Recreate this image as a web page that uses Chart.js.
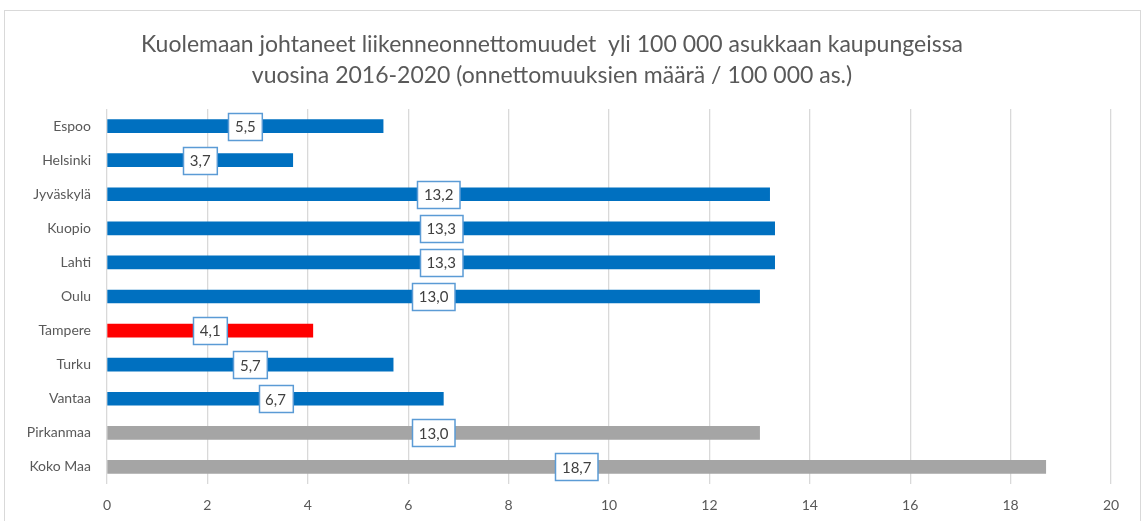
<!DOCTYPE html>
<html>
<head>
<meta charset="utf-8">
<script src="https://cdn.jsdelivr.net/npm/chart.js@4/dist/chart.umd.min.js"></script>
<style>
  html, body { margin: 0; padding: 0; background: #ffffff; }
  #wrap { width: 1143px; height: 521px; position: relative; }
</style>
</head>
<body>
<div id="wrap"><canvas id="chart" width="1143" height="521"></canvas></div>
<script>
// Kaupungit ja onnettomuudet / 100 000 as.
const cities = ["Espoo", "Helsinki", "Jyväskylä", "Kuopio", "Lahti", "Oulu",
                "Tampere", "Turku", "Vantaa", "Pirkanmaa", "Koko Maa"];
const rates = [5.5, 3.7, 13.2, 13.3, 13.3, 13.0, 4.1, 5.7, 6.7, 13.0, 18.7];
const titleLines = [
    "Kuolemaan johtaneet liikenneonnettomuudet  yli 100 000 asukkaan kaupungeissa",
    "vuosina 2016-2020 (onnettomuuksien määrä / 100 000 as.)"
];

const BLUE = "#0070C0", RED = "#FF0000", GREY = "#A5A5A5";
const barColors = cities.map(c =>
    c === "Tampere" ? RED : (c === "Pirkanmaa" || c === "Koko Maa") ? GREY : BLUE);

const FONT = "Lato, 'Open Sans', sans-serif";

function fmt(v) {
    return v.toFixed(1).replace(".", ",");
}

// Kehys ja otsikko
const framePlugin = {
    id: "frame",
    beforeDraw(chart) {
        const ctx = chart.ctx;
        ctx.save();
        ctx.strokeStyle = "#D9D9D9";
        ctx.lineWidth = 1;
        ctx.strokeRect(4.5, 10.5, 1136, 530);
        ctx.fillStyle = "#595959";
        ctx.font = "23px " + FONT;
        ctx.textAlign = "center";
        ctx.textBaseline = "middle";
        titleLines.forEach((t, i) => ctx.fillText(t, 552, 45 + i * 31));
        ctx.restore();
    }
};

// Arvolaatikot palkkien keskelle
const valueBoxPlugin = {
    id: "valueBoxes",
    afterDatasetsDraw(chart) {
        const ctx = chart.ctx;
        const meta = chart.getDatasetMeta(0);
        ctx.save();
        ctx.font = "15px " + FONT;
        ctx.textAlign = "center";
        ctx.textBaseline = "middle";
        meta.data.forEach((bar, i) => {
            const txt = fmt(chart.data.datasets[0].data[i]);
            const cx = (bar.x + bar.base) / 2;
            const cy = bar.y;
            const w = ctx.measureText(txt).width + 13;
            const h = 27;
            const x0 = Math.round(cx - w / 2) + 0.5;
            const y0 = Math.round(cy - h / 2) + 0.5;
            ctx.fillStyle = "#FFFFFF";
            ctx.fillRect(x0, y0, w, h);
            ctx.strokeStyle = "#5B9BD5";
            ctx.lineWidth = 1.5;
            ctx.strokeRect(x0, y0, w, h);
            ctx.fillStyle = "#404040";
            ctx.fillText(txt, cx, cy + 1);
        });
        ctx.restore();
    }
};

new Chart(document.getElementById("chart").getContext("2d"), {
    type: "bar",
    data: {
        labels: cities,
        datasets: [{
            data: rates,
            backgroundColor: barColors,
            borderWidth: 0,
            barThickness: 13
        }]
    },
    options: {
        indexAxis: "y",
        responsive: false,
        animation: false,
        layout: { padding: { top: 109, right: 32, left: 0, bottom: 0 } },
        plugins: {
            legend: { display: false },
            tooltip: { enabled: false }
        },
        scales: {
            x: {
                min: 0,
                max: 20,
                ticks: { stepSize: 2, color: "#595959", font: { family: FONT, size: 14 }, padding: 13 },
                grid: { color: "#D9D9D9", lineWidth: 1.3, drawTicks: false },
                border: { display: false },
                afterFit(scale) { scale.height = 37; }
            },
            y: {
                ticks: { color: "#595959", font: { family: FONT, size: 14 }, padding: 16 },
                grid: { display: false, drawTicks: false },
                border: { display: false },
                afterFit(scale) { scale.width = 107; }
            }
        }
    },
    plugins: [framePlugin, valueBoxPlugin]
});
</script>
</body>
</html>
